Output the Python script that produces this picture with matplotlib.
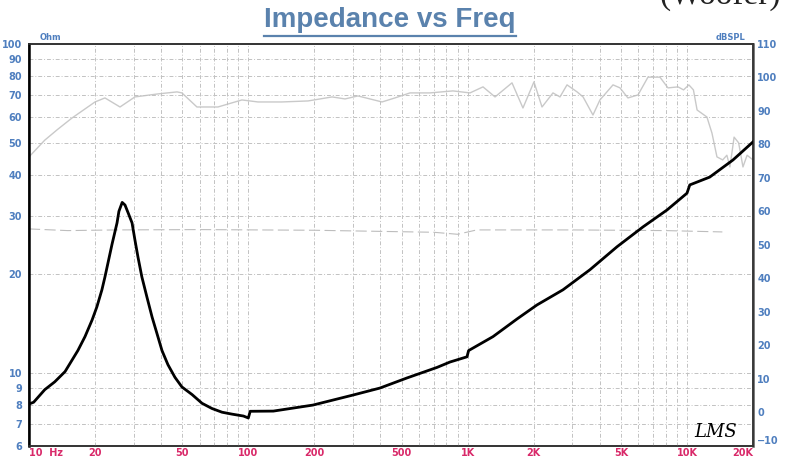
import numpy as np
import matplotlib
matplotlib.use("Agg")
import matplotlib.pyplot as plt
from matplotlib.lines import Line2D

# impedance curve (Ohm)
imp_freq = [10, 10.5, 11.8, 13.1, 14.6, 16.7, 18.0, 19.4, 20.4, 21.5, 22.2,
            23.9, 25.2, 25.7, 26.6, 27.4, 28.3, 29.5, 30.4, 31.4, 32.7, 34.5, 36.4,
            38.3, 40.4, 43.0, 46.3, 49.8, 55.4, 61.5, 68.3, 75.9, 84.2, 95, 100,
            102, 130, 197, 300, 398, 529, 725, 831, 993, 1010, 1305, 1680, 2070,
            2720, 3610, 4800, 6300, 8110, 10000, 10300, 12700, 16200, 20000]
imp_ohm = [8.05, 8.15, 8.9, 9.4, 10.1, 11.7, 12.9, 14.5, 15.9, 17.9, 19.6,
           24.6, 28.6, 31.0, 33.0, 32.4, 30.7, 28.6, 25.4, 22.5, 19.6, 17.0, 14.8,
           13.2, 11.7, 10.6, 9.7, 9.07, 8.6, 8.09, 7.8, 7.6, 7.5, 7.4, 7.3,
           7.65, 7.66, 7.99, 8.57, 9.0, 9.66, 10.4, 10.8, 11.2, 11.7, 12.9, 14.6,
           16.1, 17.9, 20.6, 24.2, 27.8, 31.3, 35.2, 37.3, 39.4, 44.4, 50.4]

# SPL curve (dB)
spl_freq = [10, 11.8, 13.5, 15.7, 20, 22.2, 26, 30.4, 38.7, 47.3, 49.8, 58.3, 72.7,
            93.5, 110.7, 142, 187, 241, 276, 316, 407, 466, 546, 673, 857, 1025,
            1175, 1333, 1593, 1787, 2006, 2183, 2449, 2636, 2838, 3155, 3360, 3727,
            4010, 4600, 4950, 5380, 5980, 6640, 7530, 8190, 9100, 9650, 10200,
            10700, 11120, 12330, 13000, 13700, 14550, 15200, 15700, 16400, 17200,
            18000, 18800, 20000]
spl_db = [76.3, 81.3, 84.5, 87.9, 92.7, 93.9, 91.2, 94.2, 95.1, 95.7, 95.4, 91.2,
          91.2, 93.3, 92.7, 92.7, 93.0, 94.2, 93.6, 94.5, 92.7, 93.9, 95.4, 95.4,
          96.0, 95.4, 97.2, 94.2, 98.4, 90.9, 98.7, 91.2, 95.4, 94.2, 97.8, 95.7,
          94.2, 88.8, 93.3, 97.8, 96.9, 93.9, 94.8, 100.1, 100.1, 96.9, 97.2, 96.3,
          97.8, 96.3, 90.3, 88.2, 83.4, 76.3, 75.4, 76.8, 73.3, 82.2, 80.5, 73.3,
          76.8, 75.4]

# faint broken trace around 54 dB
faint_freq = [10, 15, 25, 60, 200, 700, 900, 1100, 3000, 8000, 14500]
faint_db = [54.8, 54.3, 54.5, 54.6, 54.4, 53.8, 53.2, 54.5, 54.5, 54.3, 53.9]

x_ticks = [10, 20, 50, 100, 200, 500, 1000, 2000, 5000, 10000, 20000]
x_labels = ['10  Hz', '20', '50', '100', '200', '500', '1K', '2K', '5K', '10K', '20K']
y_ticks = [6, 7, 8, 9, 10, 20, 30, 40, 50, 60, 70, 80, 90, 100]
y2_ticks = list(range(-10, 111, 10))

blue = '#4f7fbf'
pink = '#d92a6a'
grid_kw = dict(color='#c2c2c2', lw=0.7, ls=(0, (4, 2, 1, 2)))

fig = plt.figure(figsize=(7.85, 4.59), dpi=100)
ax = fig.add_axes([29 / 785, 13 / 459, 724 / 785, 402 / 459])
ax2 = ax.twinx()

ax.set_xscale('log')
ax.set_yscale('log')
ax.set_xlim(10, 20000)
ax.set_ylim(6, 100)
ax2.set_ylim(-10, 110)

# grid
for f in [20, 30, 40, 50, 60, 70, 80, 90, 100, 200, 300, 400, 500, 600, 700, 800,
          900, 1000, 2000, 3000, 4000, 5000, 6000, 7000, 8000, 9000, 10000]:
    ax.axvline(f, zorder=0, **grid_kw)
for v in y_ticks[1:-1]:
    ax.axhline(v, zorder=0, **grid_kw)

ax2.plot(spl_freq, spl_db, color='#c9c9c9', lw=1.0, zorder=1)
ax2.plot(faint_freq, faint_db, color='#bdbdbd', lw=0.8, ls=(0, (10, 4)), zorder=1)

ax.set_zorder(ax2.get_zorder() + 1)
ax.patch.set_visible(False)
ax.plot(imp_freq, imp_ohm, color='black', lw=2.0, solid_joinstyle='round', zorder=3)

ax.xaxis.set_major_locator(plt.FixedLocator(x_ticks))
ax.xaxis.set_minor_locator(plt.NullLocator())
ax.set_xticklabels(x_labels)
ax.yaxis.set_major_locator(plt.FixedLocator(y_ticks))
ax.yaxis.set_minor_locator(plt.NullLocator())
ax.set_yticklabels([str(v) for v in y_ticks])
ax2.set_yticks(y2_ticks)

ax.tick_params(axis='x', length=0, pad=1.5, labelsize=7, labelcolor=pink)
ax.tick_params(axis='y', length=0, pad=5, labelsize=7, labelcolor=blue)
ax2.tick_params(axis='y', length=0, pad=3, labelsize=7, labelcolor=blue)
for lab in ax.get_xticklabels() + ax.get_yticklabels() + ax2.get_yticklabels():
    lab.set_fontweight('bold')
ax.get_xticklabels()[0].set_horizontalalignment('left')
ax.get_xticklabels()[-1].set_horizontalalignment('right')
ax2.get_yticklabels()[0].set_verticalalignment('bottom')

for a in (ax, ax2):
    for s in a.spines.values():
        s.set_color('#333333')
        s.set_linewidth(1.2)
ax.spines['left'].set_color('black')
ax.spines['left'].set_linewidth(1.8)
ax2.spines['right'].set_color('#555555')
ax2.spines['right'].set_linewidth(1.8)

fig.text(40 / 785, 1 - 37 / 459, 'Ohm', color=blue, fontsize=6, fontweight='bold',
         ha='left', va='center')
fig.text(745 / 785, 1 - 37 / 459, 'dBSPL', color=blue, fontsize=6, fontweight='bold',
         ha='right', va='center')

title = fig.text(0.497, 1 - 27 / 459, 'Impedance vs Freq', color='#5a82ad', fontsize=20,
                 fontweight='bold', family='Liberation Sans', ha='center', va='baseline')
fig.canvas.draw()
bb = title.get_window_extent()
uy = bb.y0 - 3
fig.add_artist(Line2D([bb.x0 / 785, bb.x1 / 785], [uy / 459, uy / 459],
                      color='#5a82ad', lw=1.6, transform=fig.transFigure))

fig.text(0.995, 1 - 4 / 459, '(Woofer)', fontsize=24, family='Liberation Serif',
         ha='right', va='baseline', color='#222222')
fig.text(737 / 785, 1 - 432 / 459, 'LMS', fontsize=13, family='DejaVu Serif',
         style='italic', ha='right', va='center', color='black')

fig.savefig('out.png', dpi=100)
